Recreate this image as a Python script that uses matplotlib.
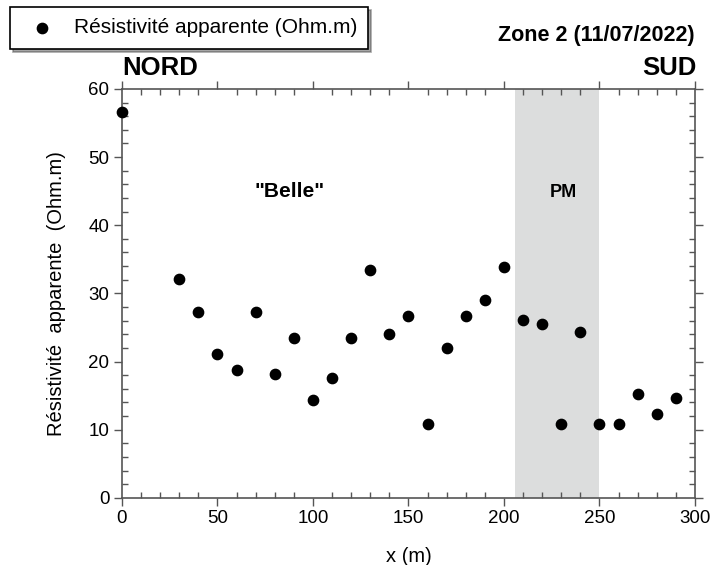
import numpy as np
import matplotlib.pyplot as plt
from matplotlib.ticker import MultipleLocator

plt.rcParams['font.family'] = ['Liberation Sans', 'DejaVu Sans']

# positions along the profile (m) and apparent resistivity (Ohm.m)
x_m = [0, 30, 40, 50, 60, 70, 80, 90, 100, 110, 120, 130, 140, 150, 160,
       170, 180, 190, 200, 210, 220, 230, 240, 250, 260, 270, 280, 290]
rho = [56.6, 32.1, 27.2, 21.1, 18.7, 27.2, 18.2, 23.4, 14.3, 17.6, 23.5, 33.5, 24.0, 26.7, 10.8,
       22.0, 26.7, 29.1, 33.9, 26.1, 25.5, 10.8, 24.4, 10.8, 10.8, 15.3, 12.35, 14.7]

# shaded "PM" zone
pm_zone = (206, 250)

fig = plt.figure(figsize=(7.12, 5.65), dpi=100)
ax = fig.add_axes([0.1713, 0.119, 0.8047, 0.7235])

ax.axvspan(pm_zone[0], pm_zone[1], color='#dcdddd', lw=0, zorder=0)
pts = ax.scatter(x_m, rho, s=55, color='black', zorder=3, clip_on=False,
                 label='Résistivité apparente (Ohm.m)')

ax.set_xlim(0, 300)
ax.set_ylim(0, 60)
ax.xaxis.set_major_locator(MultipleLocator(50))
ax.xaxis.set_minor_locator(MultipleLocator(10))
ax.yaxis.set_major_locator(MultipleLocator(10))
ax.yaxis.set_minor_locator(MultipleLocator(2))
ax.tick_params(which='major', direction='out', length=6, width=1, color='#555555',
               top=True, right=True, labelsize=13.5, pad=3)
ax.tick_params(which='minor', direction='in', length=4, width=1, color='#555555',
               top=True, right=True)
for s in ax.spines.values():
    s.set_color('#555555')
    s.set_linewidth(1.2)

ax.set_xlabel('x (m)', fontsize=14.5, labelpad=14)
ax.set_ylabel('Résistivité  apparente  (Ohm.m)', fontsize=14.5, labelpad=16)

ax.text(88, 45, '"Belle"', fontsize=15, fontweight='bold', ha='center', va='center')
ax.text(231, 44.8, 'PM', fontsize=13, fontweight='bold', ha='center', va='center')

fig.text(122 / 712, 1 - 68 / 565, 'NORD', fontsize=18.5, fontweight='bold', ha='left', va='center')
fig.text(697 / 712, 1 - 68 / 565, 'SUD', fontsize=18.5, fontweight='bold', ha='right', va='center')
fig.text(695 / 712, 1 - 36 / 565, 'Zone 2 (11/07/2022)', fontsize=15.5, fontweight='bold',
         ha='right', va='center')

leg = fig.legend(handles=[pts], loc='upper left', bbox_to_anchor=(10 / 712, 1 - 7 / 565),
                 fontsize=15, frameon=True, fancybox=False, shadow=True,
                 edgecolor='black', borderpad=0.55, handletextpad=0.5, borderaxespad=0)
leg.get_frame().set_linewidth(1.2)

fig.savefig('out.png', dpi=100)
